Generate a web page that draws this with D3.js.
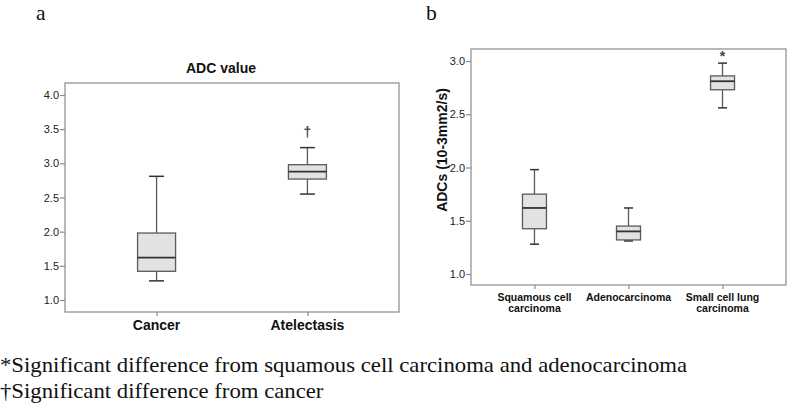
<!DOCTYPE html>
<html>
<head>
<meta charset="utf-8">
<title>ADC box plots</title>
<script src="https://cdn.jsdelivr.net/npm/d3@7/dist/d3.min.js"></script>
<style>
  body { margin: 0; background: #fff; }
  svg text { font-family: Arial, "Liberation Sans", sans-serif; }
  .tick text { fill: #222; font-size: 11px; }
  .serif { font-family: "Liberation Serif", "Times New Roman", serif !important; fill: #111; }
</style>
</head>
<body>
<div id="chart"></div>
<script>
// panel a: ADC value
var catsA = ["Cancer", "Atelectasis"];
var minA = [1.28, 2.55];
var q1A = [1.42, 2.77];
var medA = [1.62, 2.88];
var q3A = [1.98, 2.98];
var maxA = [2.81, 3.23];
var ticksA = [1.0, 1.5, 2.0, 2.5, 3.0, 3.5, 4.0];
var markA = ["", "\u2020"];
var markPosA = [null, 3.46];

// panel b: ADCs by tumour type
var catsB = ["Squamous cell carcinoma", "Adenocarcinoma", "Small cell lung carcinoma"];
var labelLinesB = [["Squamous cell", "carcinoma"], ["Adenocarcinoma"], ["Small cell lung", "carcinoma"]];
var minB = [1.28, 1.31, 2.56];
var q1B = [1.425, 1.32, 2.73];
var medB = [1.62, 1.40, 2.81];
var q3B = [1.75, 1.45, 2.86];
var maxB = [1.98, 1.62, 2.98];
var ticksB = [1.0, 1.5, 2.0, 2.5, 3.0];
var markB = ["", "", "*"];
var markPosB = [null, null, 3.05];

var footnotes = [
  "*Significant difference from squamous cell carcinoma and adenocarcinoma",
  "\u2020Significant difference from cancer"
];

var W = 790, H = 415;
var svg = d3.select("#chart").append("svg")
  .attr("width", W)
  .attr("height", H);

var frameColor = "#8a8a8a";

function boxPanel(opt) {
  var g = svg.append("g");
  var x = d3.scalePoint().domain(opt.cats).range([opt.left, opt.right]).padding(opt.pad);
  var y = d3.scaleLinear().domain(opt.yDomain).range(opt.yRange);

  // frame
  g.append("rect")
    .attr("x", opt.left).attr("y", opt.top)
    .attr("width", opt.right - opt.left).attr("height", opt.bottom - opt.top)
    .attr("fill", "none").attr("stroke", frameColor).attr("stroke-width", 1.2);

  // y axis
  var ya = g.append("g")
    .attr("transform", "translate(" + opt.left + ",0)")
    .call(d3.axisLeft(y).tickValues(opt.ticks).tickFormat(d3.format(".1f")).tickSize(5).tickPadding(1));
  ya.select(".domain").remove();
  ya.selectAll(".tick line").attr("stroke", frameColor).attr("stroke-width", 1.2);

  // x ticks
  var xa = g.append("g")
    .attr("transform", "translate(0," + opt.bottom + ")")
    .call(d3.axisBottom(x).tickSize(4).tickFormat(""));
  xa.select(".domain").remove();
  xa.selectAll(".tick line").attr("stroke", frameColor).attr("stroke-width", 1.2);

  var data = opt.cats.map(function(c, i) {
    return { c: c, min: opt.min[i], q1: opt.q1[i], med: opt.med[i], q3: opt.q3[i], max: opt.max[i],
             mark: opt.mark[i], markPos: opt.markPos[i], lines: opt.lines[i] };
  });

  var boxes = g.selectAll(".box").data(data).enter().append("g").attr("class", "box");
  var bw = opt.boxW, cw = opt.capW;
  var stroke = "#5a5a5a";

  // whiskers
  boxes.append("line")
    .attr("x1", function(d) { return x(d.c); }).attr("x2", function(d) { return x(d.c); })
    .attr("y1", function(d) { return y(d.max); }).attr("y2", function(d) { return y(d.q3); })
    .attr("stroke", stroke).attr("stroke-width", 1.3);
  boxes.append("line")
    .attr("x1", function(d) { return x(d.c); }).attr("x2", function(d) { return x(d.c); })
    .attr("y1", function(d) { return y(d.q1); }).attr("y2", function(d) { return y(d.min); })
    .attr("stroke", stroke).attr("stroke-width", 1.3);
  // caps
  boxes.append("line")
    .attr("x1", function(d) { return x(d.c) - cw / 2; }).attr("x2", function(d) { return x(d.c) + cw / 2; })
    .attr("y1", function(d) { return y(d.max); }).attr("y2", function(d) { return y(d.max); })
    .attr("stroke", "#333").attr("stroke-width", 1.5);
  boxes.append("line")
    .attr("x1", function(d) { return x(d.c) - cw / 2; }).attr("x2", function(d) { return x(d.c) + cw / 2; })
    .attr("y1", function(d) { return y(d.min); }).attr("y2", function(d) { return y(d.min); })
    .attr("stroke", "#333").attr("stroke-width", 1.5);
  // box
  boxes.append("rect")
    .attr("x", function(d) { return x(d.c) - bw / 2; })
    .attr("y", function(d) { return y(d.q3); })
    .attr("width", bw)
    .attr("height", function(d) { return y(d.q1) - y(d.q3); })
    .attr("fill", "#e2e2e2").attr("stroke", stroke).attr("stroke-width", 1.3);
  // median
  boxes.append("line")
    .attr("x1", function(d) { return x(d.c) - bw / 2; }).attr("x2", function(d) { return x(d.c) + bw / 2; })
    .attr("y1", function(d) { return y(d.med); }).attr("y2", function(d) { return y(d.med); })
    .attr("stroke", "#333").attr("stroke-width", 1.8);
  // significance marks
  boxes.filter(function(d) { return d.mark; }).append("text")
    .attr("x", function(d) { return x(d.c); })
    .attr("y", function(d) { return y(d.markPos) + 5; })
    .attr("text-anchor", "middle")
    .attr("font-size", opt.markSize + "px")
    .attr("font-weight", "bold")
    .attr("fill", "#444")
    .text(function(d) { return d.mark; });

  // category labels
  var lab = g.selectAll(".cat").data(data).enter().append("text")
    .attr("class", "cat")
    .attr("text-anchor", "middle")
    .attr("font-weight", "bold")
    .attr("font-size", opt.catSize + "px")
    .attr("fill", "#111");
  lab.selectAll("tspan").data(function(d) { return d.lines.map(function(l) { return { l: l, c: d.c }; }); })
    .enter().append("tspan")
    .attr("x", function(t) { return x(t.c); })
    .attr("y", function(t, i) { return opt.catY + i * opt.catLine; })
    .text(function(t) { return t.l; });

  return g;
}

boxPanel({
  cats: catsA, min: minA, q1: q1A, med: medA, q3: q3A, max: maxA,
  mark: markA, markPos: markPosA, lines: catsA.map(function(c) { return [c]; }),
  ticks: ticksA, yDomain: [1, 4], yRange: [300, 95],
  left: 65, right: 399, top: 83, bottom: 312, pad: 0.607,
  boxW: 38, capW: 15, catSize: 14, catY: 330, catLine: 0, markSize: 14
});

boxPanel({
  cats: catsB, min: minB, q1: q1B, med: medB, q3: q3B, max: maxB,
  mark: markB, markPos: markPosB, lines: labelLinesB,
  ticks: ticksB, yDomain: [1, 3], yRange: [274, 61],
  left: 471, right: 786, top: 49, bottom: 285, pad: 0.675,
  boxW: 24, capW: 9, catSize: 10.5, catY: 301, catLine: 11, markSize: 14
});

// titles
svg.append("text")
  .attr("x", 221).attr("y", 73)
  .attr("text-anchor", "middle")
  .attr("font-size", "14px").attr("font-weight", "bold").attr("fill", "#111")
  .text("ADC value");

svg.append("text")
  .attr("transform", "translate(447,150) rotate(-90)")
  .attr("text-anchor", "middle")
  .attr("font-size", "14px").attr("font-weight", "bold").attr("fill", "#111")
  .text("ADCs (10-3mm2/s)");

// panel letters (source image is slightly stretched sideways)
svg.append("text").attr("class", "serif").attr("transform", "translate(36,20) scale(1.08,1)").attr("font-size", "20px").text("a");
svg.append("text").attr("class", "serif").attr("transform", "translate(426,20) scale(1.08,1)").attr("font-size", "20px").text("b");

// footnotes
svg.selectAll(".foot").data(footnotes).enter().append("text")
  .attr("class", "serif foot")
  .attr("transform", function(d, i) { return "translate(0," + (372 + i * 26) + ") scale(1.084,1)"; })
  .attr("font-size", "21px")
  .text(function(d) { return d; });
</script>
</body>
</html>
